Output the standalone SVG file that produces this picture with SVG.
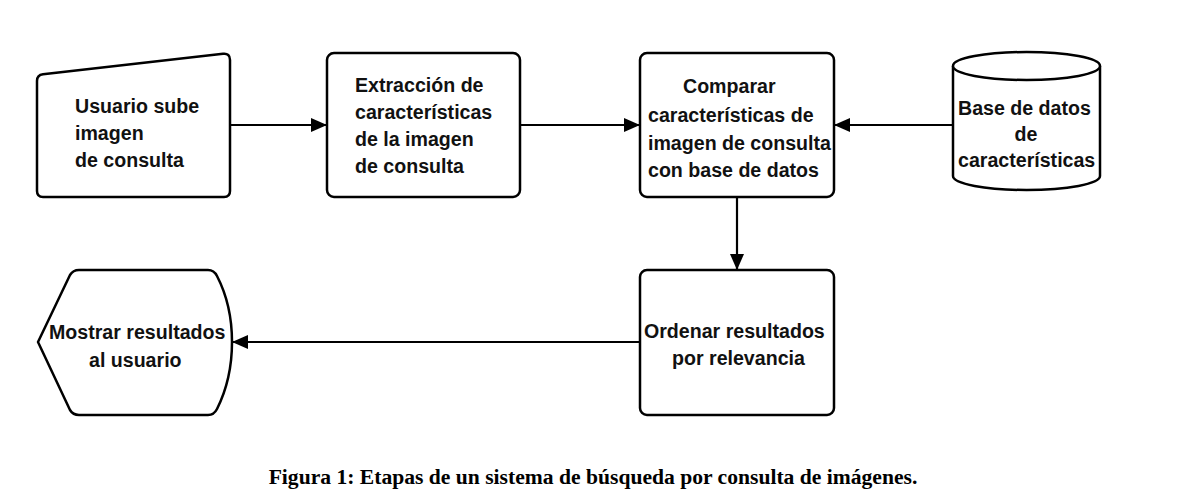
<svg xmlns="http://www.w3.org/2000/svg" width="1199" height="501" viewBox="0 0 1199 501">
<defs>
<style>
.shape{fill:#fff;stroke:#000;stroke-width:2.5;stroke-linejoin:round}
.lbl{font-family:"Liberation Sans",Arial,sans-serif;font-weight:bold;font-size:19.6px;fill:#111}
.conn{stroke:#000;stroke-width:2.2;fill:none;marker-end:url(#ah)}
.cap{font-family:"Liberation Serif","Times New Roman",serif;font-weight:bold;font-size:21.6px;fill:#000}
</style>
<marker id="ah" viewBox="0 0 16 14" refX="16" refY="7" markerWidth="16" markerHeight="14" markerUnits="userSpaceOnUse" orient="auto">
<path d="M0,0 L16,7 L0,14 Z" fill="#000"/>
</marker>
</defs>
<rect width="1199" height="501" fill="#fff"/>
<g id="connectors">
<path class="conn" d="M230,125 H327"/>
<path class="conn" d="M520,125 H640"/>
<path class="conn" d="M953,125 H834"/>
<path class="conn" d="M737,197 V270"/>
<path class="conn" d="M640,342 H232"/>
</g>
<g id="node-usuario">
<path class="shape" d="M43,74.3 L223,53.8 Q230,53 230,60 L230,191 Q230,197 224,197 L43,197 Q37,197 37,191 L37,81 Q37,75 43,74.3 Z"/>
<text class="lbl"><tspan x="75" y="113">Usuario sube</tspan><tspan x="75" y="140">imagen</tspan><tspan x="75" y="167">de consulta</tspan></text>
</g>
<g id="node-extraccion">
<rect class="shape" x="327" y="53" width="193" height="144" rx="7"/>
<text class="lbl"><tspan x="355" y="92">Extracción de</tspan><tspan x="355" y="119">características</tspan><tspan x="355" y="146">de la imagen</tspan><tspan x="355" y="173">de consulta</tspan></text>
</g>
<g id="node-comparar">
<rect class="shape" x="640" y="53" width="194" height="144" rx="7"/>
<text class="lbl"><tspan x="683" y="93">Comparar</tspan><tspan x="648" y="122">características de</tspan><tspan x="648" y="150">imagen de consulta</tspan><tspan x="648" y="177">con base de datos</tspan></text>
</g>
<g id="node-base">
<path class="shape" d="M953,66 A73.5,14 0 0 1 1100,66 L1100,176 A73.5,14 0 0 1 953,176 Z"/>
<path class="shape" d="M953,66 A73.5,14 0 0 0 1100,66" fill="none"/>
<text class="lbl"><tspan x="958" y="115">Base de datos</tspan><tspan x="1026" y="141" text-anchor="middle">de</tspan><tspan x="958" y="167">características</tspan></text>
</g>
<g id="node-ordenar">
<rect class="shape" x="640" y="270" width="194" height="145" rx="7"/>
<text class="lbl"><tspan x="644" y="338">Ordenar resultados</tspan><tspan x="672" y="365">por relevancia</tspan></text>
</g>
<g id="node-mostrar">
<path class="shape" d="M38,342 L70,275 Q73,270 79,270 L208,270 Q214,270 217,276 Q232,305 232,342 Q232,379 217,409 Q214,415 208,415 L79,415 Q73,415 70,410 Z"/>
<text class="lbl"><tspan x="49" y="339">Mostrar resultados</tspan><tspan x="89" y="367">al usuario</tspan></text>
</g>
<text class="cap" x="593" y="484" text-anchor="middle">Figura 1: Etapas de un sistema de búsqueda por consulta de imágenes.</text>
</svg>
